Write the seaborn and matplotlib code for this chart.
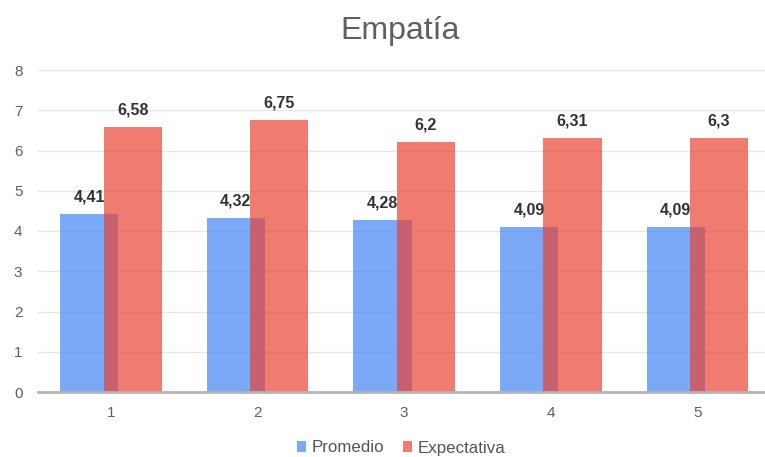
import matplotlib
matplotlib.use("Agg")
import matplotlib.pyplot as plt
from matplotlib.patches import Patch
import seaborn as sns
import pandas as pd

categorias = ["1", "2", "3", "4", "5"]
promedio = [4.41, 4.32, 4.28, 4.09, 4.09]
expectativa = [6.58, 6.75, 6.2, 6.31, 6.3]
series = ["Promedio", "Expectativa"]
colores = ["#4285F4", "#EA4335"]

df = pd.DataFrame({
    "categoria": categorias * 2,
    "valor": promedio + expectativa,
    "serie": [series[0]] * len(categorias) + [series[1]] * len(categorias),
})

sns.set_theme(style="white")
plt.rcParams["font.family"] = ["Liberation Sans", "DejaVu Sans"]

fig = plt.figure(figsize=(7.65, 4.57), dpi=100)
W, H = 765, 457
ax = fig.add_axes([37.7 / W, (H - 392) / H, 733 / W, 322 / H])

bar_w = 0.396
shift = 0.148
sns.barplot(data=df, x="categoria", y="valor", hue="serie", hue_order=series,
            palette=colores, alpha=0.7, width=2 * bar_w, saturation=1,
            linewidth=0, ax=ax, legend=False, errorbar=None)

# overlapping bars: pull each series toward the category centre
for cont, sign in zip(ax.containers, (-1, 1)):
    for i, p in enumerate(cont.patches):
        p.set_width(bar_w)
        p.set_x(i + sign * shift - bar_w / 2)
    labels = [f"{v:g}".replace(".", ",") for v in cont.datavalues]
    ax.bar_label(cont, labels=labels, padding=7, fontsize=11.5,
                 fontweight="bold", color="#333333")

ax.set_xlim(-0.5, 4.5)
ax.set_ylim(0, 8)
ax.set_yticks(range(0, 9))
ax.set_xlabel("")
ax.set_ylabel("")
ax.grid(axis="y", color="#e6e6e6", linewidth=1)
ax.set_axisbelow(True)
for s in ("top", "right", "left"):
    ax.spines[s].set_visible(False)
ax.spines["bottom"].set_color("#b5b5b5")
ax.spines["bottom"].set_linewidth(2)
ax.tick_params(axis="y", length=0, pad=11, labelsize=11, labelcolor="#5f5f5f")
ax.tick_params(axis="x", length=0, pad=10, labelsize=11, labelcolor="#5f5f5f")

fig.text(400 / W, 1 - 31 / H, "Empatía", ha="center", va="center",
         fontsize=23, color="#5f5f5f")

handles = [Patch(facecolor=c, alpha=0.7, edgecolor="none") for c in colores]
fig.legend(handles, series, loc="center", bbox_to_anchor=(401 / W, 1 - 448 / H),
           ncol=2, frameon=False, fontsize=12.2, labelcolor="#555555",
           handlelength=0.55, handleheight=0.55, handletextpad=0.3,
           columnspacing=1.1)

fig.savefig("out.png", dpi=100)
